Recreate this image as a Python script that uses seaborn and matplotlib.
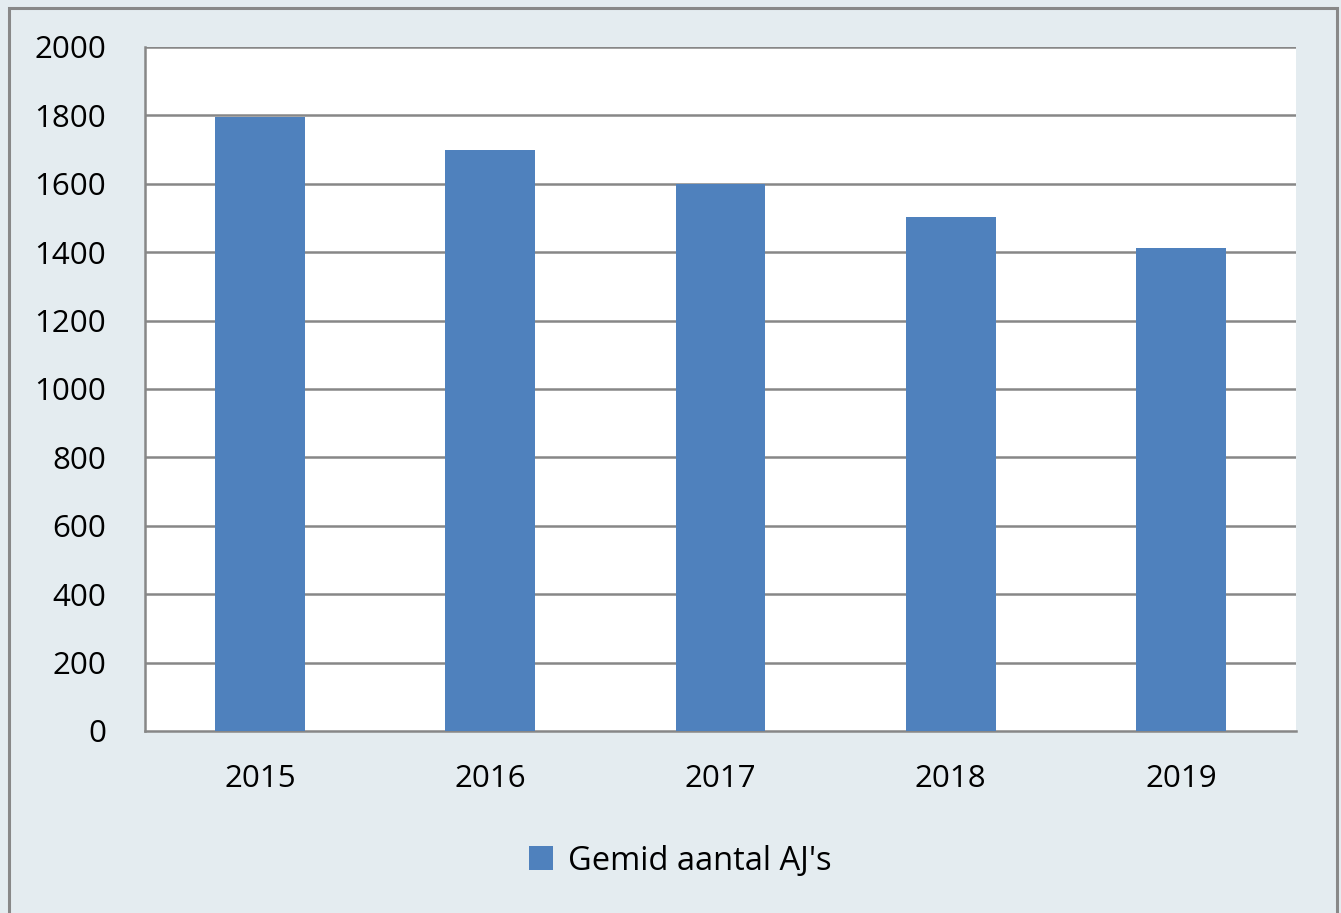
import matplotlib
matplotlib.use("Agg")
import matplotlib.pyplot as plt
import seaborn as sns
import pandas as pd
from matplotlib.patches import Rectangle, Patch

years = ["2015", "2016", "2017", "2018", "2019"]
values = [1795, 1700, 1600, 1503, 1412]
series_name = "Gemid aantal AJ's"
y_ticks = [0, 200, 400, 600, 800, 1000, 1200, 1400, 1600, 1800, 2000]

sns.set_theme(style="white")
plt.rcParams['font.family'] = ['Open Sans', 'DejaVu Sans']
plt.rcParams['text.color'] = 'black'

W, H = 1341, 913
bg = "#E4ECF0"
bar_color = "#4F81BD"
grid_color = "#878787"

fig = plt.figure(figsize=(W / 100, H / 100), dpi=100, facecolor=bg)
fig.patches.append(Rectangle((9 / W, -0.01), (1337 - 9) / W, (H - 8) / H + 0.01,
                             transform=fig.transFigure, fill=False,
                             edgecolor="#888888", linewidth=2.2))

ax = fig.add_axes([145 / W, 1 - 731 / H, (1296 - 145) / W, (731 - 47) / H])
ax.set_facecolor("white")

df = pd.DataFrame({"year": years, "value": values})
sns.barplot(data=df, x="year", y="value", color=bar_color, saturation=1,
            width=0.39, ax=ax, zorder=3, edgecolor="none", linewidth=0)

ax.set_ylim(0, 2000)
ax.set_yticks(y_ticks)
ax.set_xlim(-0.5, 4.5)
for t in y_ticks[1:]:
    ax.axhline(t, color=grid_color, linewidth=1.8, zorder=1)
ax.set_xlabel("")
ax.set_ylabel("")
for s in ["top", "right"]:
    ax.spines[s].set_visible(False)
for s in ["left", "bottom"]:
    ax.spines[s].set_color(grid_color)
    ax.spines[s].set_linewidth(1.8)
ax.tick_params(axis="y", length=0, pad=28, labelsize=22.5, labelcolor="black")
ax.tick_params(axis="x", length=0, pad=24, labelsize=22.5, labelcolor="black")

handles = [Patch(facecolor=bar_color, edgecolor="none", label=series_name)]
fig.legend(handles=handles, loc="center", bbox_to_anchor=(680 / W, 1 - 861 / H),
           frameon=False, fontsize=23.5, handlelength=0.75, handleheight=0.75,
           handletextpad=0.45, labelcolor="black")

fig.savefig("out.png", dpi=100, facecolor=bg)
